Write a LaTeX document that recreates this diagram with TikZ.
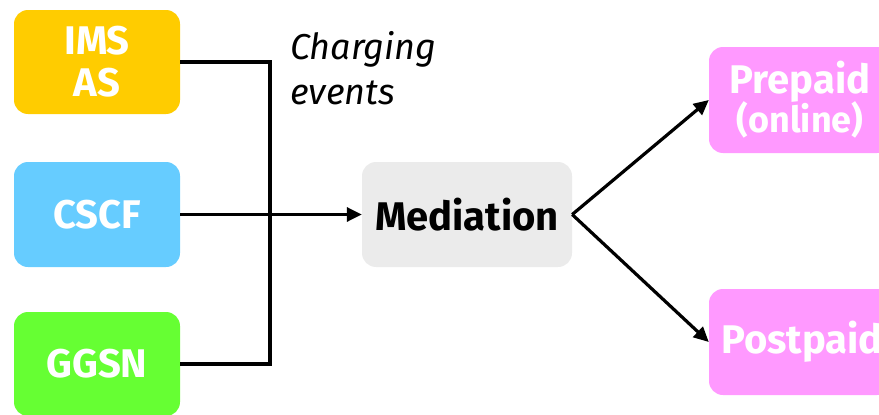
\documentclass[tikz,border=0pt]{standalone}
\usepackage{fontspec}
\setmainfont{Fira Sans}
\usetikzlibrary{arrows.meta}
\definecolor{imsyellow}{HTML}{FFCC00}
\definecolor{cscfblue}{HTML}{66CCFF}
\definecolor{ggsngreen}{HTML}{66FF33}
\definecolor{medgray}{HTML}{EBEBEB}
\definecolor{billpink}{HTML}{FF99FF}
\begin{document}
\begin{tikzpicture}[x=1pt,y=-1pt,
  block/.style={rounded corners=14pt, inner sep=0pt, align=center,
    font=\fontsize{40}{42}\selectfont\bfseries, text=white},
  wire/.style={line width=3.2pt, black},
  flow/.style={wire, -{Triangle[length=15pt,width=14pt]}}]
\useasboundingbox (0,0) rectangle (879,415);
% source network elements
\node[block, fill=imsyellow, minimum width=166pt, minimum height=104pt] (ims) at (97,62) {IMS\\AS};
\node[block, fill=cscfblue, minimum width=166pt, minimum height=105pt] (cscf) at (97,214.5) {CSCF};
\node[block, fill=ggsngreen, minimum width=166pt, minimum height=104pt] (ggsn) at (97,364) {GGSN};
% mediation
\node[block, fill=medgray, text=black, minimum width=210pt, minimum height=105pt] (med) at (467,214.5) {Mediation};
% billing systems
\node[block, fill=billpink, minimum width=182pt, minimum height=106pt] (pre) at (800,100)
  {Prepaid\\[-3pt]{\fontsize{36}{38}\selectfont(online)}};
\node[block, fill=billpink, minimum width=182pt, minimum height=106pt] (post) at (800,342) {\hspace*{4pt}Postpaid};
% label
\node[anchor=north west, inner sep=0pt, align=left, font=\fontsize{36}{45}\selectfont\itshape] (lbl) at (290,31) {Charging\\events};
% charging event collection
\coordinate (bus) at (270,62);
\draw[wire] (ims.east) -- (bus) |- (ggsn.east);
\draw[flow] (cscf.east) -- (med.west);
\draw[flow] (med.east) -- (pre.west);
\draw[flow] (med.east) -- (post.west);
\end{tikzpicture}
\end{document}
